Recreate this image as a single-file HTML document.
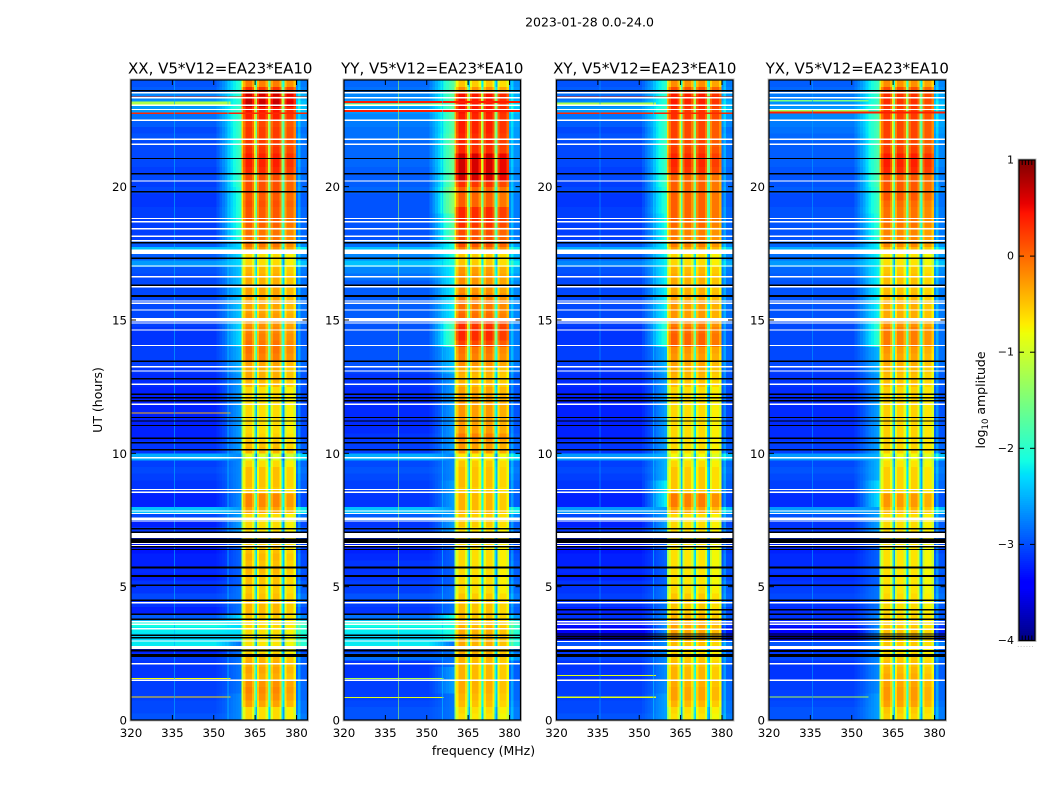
<!DOCTYPE html>
<html lang="en">
<head>
<meta charset="utf-8">
<title>2023-01-28 dynamic spectra</title>
<style>
html,body{margin:0;padding:0;background:#fff;width:1050px;height:800px;overflow:hidden}
svg{display:block}
text{font-family:"DejaVu Sans","Liberation Sans",sans-serif;fill:#000}
</style>
</head>
<body>
<svg id="chart" xmlns="http://www.w3.org/2000/svg" width="1050" height="800" viewBox="0 0 1050 800">
<rect x="0" y="0" width="1050" height="800" fill="#fff"/>
<text x="589.500" y="26.500" font-size="12.500" text-anchor="middle">2023-01-28 0.0-24.0</text>
<text x="483.500" y="755" font-size="12.500" text-anchor="middle">frequency (MHz)</text>
<text transform="translate(102,400) rotate(-90)" font-size="12.500" text-anchor="middle">UT (hours)</text>
<text transform="translate(985,400) rotate(-90)" font-size="12.500" text-anchor="middle">log<tspan font-size="8.500" dy="3">10</tspan><tspan dy="-3"> amplitude</tspan></text>
<g id="panels"></g>
<g id="colorbar"></g>
</svg>
<script>
// ---- categories / ticks ----
const panelNames = ["XX", "YY", "XY", "YX"];
const panelTitles = ["XX, V5*V12=EA23*EA10", "YY, V5*V12=EA23*EA10", "XY, V5*V12=EA23*EA10", "YX, V5*V12=EA23*EA10"];
const freqTicks = [320, 335, 350, 365, 380];
const hourTicks = [0, 5, 10, 15, 20];
const colorTicks = [1, 0, -1, -2, -3, -4];

// ---- spectral columns (MHz edges) and how each column relates to the row levels ----
const freqEdges = [320,351,352,353,354,355,356,357,358,359,360,360.7,361.5,363.8,364.6,365.1,365.6,366.4,368.8,369.6,370.1,370.6,371.4,373.8,374.6,375.1,375.6,376.4,379,379.8,380.5,381.5,384];
const columnKinds = ["b","e","e","e","e","e","e","e","e","e","n","n","n","n","n","n","n","n","n","n","n","n","n","n","n","n","n","n","n","b","b","b"];
const columnValues = [0,.1,.2,.3,.4,.55,.7,.8,.9,1,-.7,-.2,.12,-.15,-.9,-1.8,-.25,.08,-.2,-1.2,-1.6,-.15,.1,-.2,-1.6,-1.9,-.3,-.02,-.3,.25,.5,.2];
// the quarter-hour background readings sit slightly above the speckled mean colour
const bgCalibration = -0.12;

// ---- background level (320-351 MHz), one value per quarter hour, 0h upward ----
const bgXX = [-2.85,-2.9,-2.9,-2.95,-2.95,-2.95,-3,-3,-3,-2.95,-3.1,-2.1,-2.2,-2.1,-2,-2.8,-3.1,-3,-2.9,-3,-3,-3.1,-3.05,-3.1,-3.1,-3.15,-3.15,-3.1,-3,-3.1,-2.9,-2.3,-3.1,-3.1,-3,-3,-2.95,-2.9,-2.95,-2.4,-3,-3,-3.1,-3.1,-3.1,-3.1,-3.1,-3.1,-3.1,-3.1,-3.05,-3.05,-3,-2.95,-2.95,-2.95,-3,-3,-3,-2.95,-2.9,-2.9,-2.9,-2.9,-2.9,-2.9,-2.9,-2.85,-2.5,-2.8,-2.3,-2.8,-2.95,-2.95,-2.95,-2.95,-2.95,-3,-3,-2.9,-2.95,-2.9,-2.95,-2.9,-2.9,-2.9,-2.9,-2.85,-2.9,-2.8,-2.7,-2.5,-2.5,-2.6,-2.8,-2.85];
const bgYY = [-2.85,-2.85,-2.9,-2.95,-2.95,-2.95,-3,-3,-3,-2.7,-2.9,-2.1,-2.2,-2.1,-2,-2.7,-3,-2.95,-2.85,-2.95,-2.95,-3,-3,-3,-3.05,-3.1,-3.1,-3.05,-2.95,-3,-2.8,-2.3,-3,-3,-2.95,-2.95,-2.9,-2.85,-2.9,-2.4,-2.95,-2.95,-3,-3.05,-3.05,-3.05,-3.05,-3.05,-3.05,-3.05,-3,-3,-2.9,-2.85,-2.85,-2.85,-2.85,-2.85,-2.85,-2.85,-2.8,-2.8,-2.8,-2.8,-2.8,-2.8,-2.7,-2.6,-2.3,-2.6,-2.3,-2.7,-2.85,-2.85,-2.85,-2.85,-2.85,-2.85,-2.85,-2.75,-2.8,-2.8,-2.8,-2.75,-2.75,-2.75,-2.75,-2.7,-2.7,-2.65,-2.6,-2.5,-2.4,-2.6,-2.7,-2.75];
const bgXY = [-2.85,-2.9,-2.9,-2.95,-2.95,-2.95,-3,-3,-3,-2.9,-3,-2.85,-3.35,-3.35,-3.2,-3,-3.1,-3,-2.95,-3,-3,-3.1,-3.05,-3.1,-3.1,-3.15,-3.15,-3.1,-3,-3.1,-2.9,-2.5,-3.1,-3.1,-3,-3,-2.95,-2.9,-2.95,-2.5,-3,-3,-3.1,-3.1,-3.1,-3.1,-3.1,-3.1,-3.1,-3.1,-3.05,-3.05,-3,-2.95,-2.95,-2.95,-3,-3,-3,-2.95,-2.9,-2.9,-2.9,-2.9,-2.9,-2.9,-2.9,-2.85,-2.6,-2.8,-2.4,-2.8,-2.95,-2.95,-2.95,-2.95,-2.95,-3,-3,-2.9,-2.95,-2.9,-2.95,-2.9,-2.9,-2.9,-2.9,-2.85,-2.9,-2.8,-2.7,-2.5,-2.6,-2.7,-2.8,-2.85];
const bgYX = [-2.85,-2.85,-2.9,-2.95,-2.95,-2.95,-3,-3,-3,-2.9,-3,-2.85,-3.3,-3.3,-3.15,-3,-3.05,-3,-2.9,-2.95,-3,-3.05,-3,-3.05,-3.05,-3.1,-3.1,-3.05,-3,-3,-2.85,-2.5,-3.05,-3.05,-2.95,-2.95,-2.9,-2.85,-2.9,-2.5,-2.95,-2.95,-3.05,-3.05,-3.05,-3.05,-3.05,-3.05,-3.05,-3.05,-3,-3,-2.95,-2.9,-2.9,-2.9,-2.9,-2.9,-2.9,-2.9,-2.85,-2.85,-2.85,-2.85,-2.85,-2.85,-2.8,-2.75,-2.5,-2.7,-2.4,-2.75,-2.85,-2.85,-2.85,-2.85,-2.85,-2.9,-2.9,-2.8,-2.85,-2.85,-2.85,-2.8,-2.8,-2.8,-2.8,-2.75,-2.7,-2.65,-2.6,-2.5,-2.55,-2.65,-2.75,-2.8];

// ---- edge shoulder level (351-360 MHz), one value per hour ----
const edgeXX = [-2.7,-2.8,-2.8,-2.3,-2.8,-2.9,-2.9,-2.6,-2.7,-2.7,-2.6,-2.6,-2.6,-2.5,-2.3,-2.4,-2.4,-2.3,-2,-2,-1.9,-1.9,-1.9,-2];
const edgeYY = [-2.8,-2.6,-2.8,-2.1,-2.8,-2.9,-2.9,-2.6,-2.6,-2.7,-2.6,-2.6,-2.6,-2.4,-1.8,-2.2,-2.2,-2.1,-1.7,-1.4,-1.6,-1.6,-1.7,-1.7];
const edgeXY = [-2.6,-2.7,-2.7,-2.7,-2.8,-2.9,-2.9,-2.6,-2.2,-2.5,-2.6,-2.6,-2.6,-2.5,-2,-2.2,-2.2,-2.2,-2.1,-2,-1.9,-1.9,-1.9,-2];
const edgeYX = [-2.6,-2.7,-2.7,-2.7,-2.8,-2.9,-2.9,-2.6,-2.3,-2.5,-2.6,-2.6,-2.6,-2.5,-2,-2.2,-2.2,-2.2,-2,-1.9,-1.8,-1.8,-1.8,-1.9];

// ---- in-band level (360-380 MHz), one value per quarter hour ----
const bandXX = [-.7,-.7,-.4,-.3,-.25,-.3,-.45,-.4,-.45,-.5,-.7,-.75,-.75,-.7,-.65,-.6,-.5,-.5,-.55,-.6,-.55,-.55,-.5,-.55,-.5,-.55,-.6,-.7,-.7,-.7,-.7,-.4,-.25,-.25,-.6,-.55,-.55,-.55,-.7,-1,-.5,-.55,-.65,-.7,-.7,-.7,-.7,-.7,-.7,-.7,-.5,-.45,-.45,-.4,-.2,-.15,-.15,-.2,-.25,-.3,-.35,-.4,-.4,-.4,-.4,-.45,-.45,-.5,-.7,-.7,-.3,-.15,-.15,-.15,-.05,0,0,.05,0,.05,.05,.05,.25,.3,.3,.2,.15,.15,.15,.1,.3,.35,.6,.55,.2,-.2];
const bandYY = [-.75,-.7,-.55,-.5,-.45,-.45,-.5,-.5,-.5,-.5,-.45,-.45,-.45,-.45,-.5,-.55,-.55,-.55,-.6,-.7,-.7,-.7,-.7,-.7,-.7,-.7,-.7,-.7,-.7,-.6,-.6,-.5,-.5,-.5,-.6,-.55,-.55,-.55,-.6,-.8,-.35,-.35,-.2,-.35,-.35,-.35,-.35,-.35,-.35,-.4,-.5,-.5,-.45,-.3,-.2,-.15,.1,.25,.25,.2,-.1,-.15,-.15,-.2,-.3,-.3,-.3,-.35,-.6,-.6,-.2,.05,.05,.05,.2,.25,.25,-.05,-.05,-.05,.2,.55,.55,.55,.55,.25,.25,.25,.3,.3,.3,.35,.35,.35,-.3,-.6];
const bandXY = [-.75,-.7,-.5,-.4,-.4,-.45,-.5,-.5,-.55,-.6,-.7,-.55,-.4,-.4,-.4,-.5,-.6,-.6,-.6,-.7,-.75,-.75,-.75,-.75,-.75,-.75,-.75,-.75,-.7,-.7,-.7,-.4,-.2,-.2,-.6,-.6,-.6,-.6,-.7,-.9,-.7,-.7,-.7,-.7,-.7,-.7,-.7,-.7,-.7,-.7,-.55,-.5,-.45,-.4,-.35,-.3,-.05,-.05,-.1,-.2,-.35,-.35,-.35,-.4,-.45,-.45,-.45,-.5,-.7,-.7,-.4,-.2,-.2,-.2,-.1,-.05,-.05,-.05,-.05,-.05,-.05,-.05,.2,.25,.25,.15,.1,.1,.1,.1,.2,.2,.3,.3,.05,-.3];
const bandYX = [-.65,-.6,-.4,-.35,-.35,-.4,-.45,-.5,-.55,-.6,-.7,-.6,-.55,-.55,-.6,-.65,-.7,-.7,-.7,-.75,-.75,-.75,-.75,-.75,-.75,-.75,-.75,-.75,-.7,-.7,-.7,-.5,-.35,-.35,-.65,-.65,-.65,-.65,-.75,-.9,-.65,-.65,-.65,-.65,-.65,-.65,-.65,-.65,-.65,-.65,-.55,-.55,-.5,-.45,-.4,-.35,-.2,-.2,-.2,-.3,-.45,-.45,-.45,-.5,-.55,-.55,-.55,-.6,-.75,-.75,-.5,-.25,-.25,-.25,-.15,-.15,-.15,-.1,0,0,0,0,.25,.3,.3,.15,.1,.1,.1,.1,.15,.15,.2,.2,.05,-.3];

// ---- flagged integrations: start hour, duration in hours ----
const whiteFlagsCommon = [[23.5,.05],[23.31,.06],[23.02,.06],[22.87,.05],[22.47,.05],[21.75,.05],[21.56,.05],[20.19,.05],[18.78,.05],[18.66,.05],[18.4,.05],[18.12,.05],[17.95,.05],[17.48,.16],[17,.05],[16.6,.05],[16.22,.05],[15.69,.05],[15.6,.05],[15.35,.05],[14.94,.13],[14.87,.04],[14.6,.05],[14.02,.05],[13.22,.05],[13.06,.05],[12.56,.06],[11.81,.05],[9.81,.06],[8.62,.05],[8.52,.05],[7.81,.05],[7.72,.04],[7.5,.1],[7.44,.04],[6.82,.19],[6.6,.05],[6.52,.04],[4.37,.05],[2.09,.05],[1.47,.05]];
const blackFlagsCommon = [[23.57,.05],[21.03,.05],[20.46,.06],[19.78,.06],[17.87,.05],[17.28,.07],[16.28,.06],[15.87,.07],[13.43,.05],[12.77,.05],[12.19,.06],[12.06,.06],[11.94,.06],[11.32,.04],[11.19,.05],[11.02,.05],[10.53,.06],[10.37,.06],[10.1,.07],[7.15,.05],[7.02,.05],[6.64,.17],[6.47,.05],[6.37,.05],[5.69,.06],[5.37,.06],[5.02,.06],[4.47,.05],[3.94,.06],[3.75,.06]];
const whiteFlagsLowA = [[3.66,.05],[3.56,.05],[3.4,.05],[2.94,.05],[2.66,.11]];
const blackFlagsLowA = [[3.15,.06],[3.06,.06],[2.56,.09],[2.37,.1]];
const whiteFlagsLowB = [[4.37,.05],[3.66,.05],[3.56,.05],[3.37,.07],[2.92,.05],[2.66,.11]];
const blackFlagsLowB = [[4.11,.05],[3.2,.05],[3.1,.06],[3.01,.06],[2.55,.08],[2.36,.12]];

// ---- strong narrow-band rows in the background part: hour, duration, log amplitude ----
const rowHoursXX = [[23.06,.14,-1.2],[23.33,.05,.35],[22.72,.06,.35],[.85,.03,-.6],[1.55,.03,-.8],[11.5,.03,-.4]];
const rowHoursYY = [[23.14,.07,.4],[23.05,.06,-1.2],[22.8,.07,.4],[.82,.04,-.9],[1.55,.03,-1.2]];
const rowHoursXY = [[23.06,.1,-1.2],[23.33,.05,.35],[22.72,.06,.35],[.83,.05,-.9],[1.65,.04,-.9]];
const rowHoursYX = [[22.75,.07,.4],[22.82,.07,-1.3],[23.2,.05,-1.5],[.85,.04,-1.2]];

// ---- narrow vertical interference: MHz, log amplitude, opacity ----
const lineFreqXX = [335.5, 355];
const lineAmpXX = [-2.5, -2.3];
const lineFreqYY = [339.5, 355.5];
const lineAmpYY = [-1.3, -2.4];
const lineFreqXY = [335.5, 355];
const lineAmpXY = [-2.6, -2.4];
const lineFreqYX = [335.5];
const lineAmpYX = [-2.6];

const bgByPanel = [bgXX, bgYY, bgXY, bgYX];
const edgeByPanel = [edgeXX, edgeYY, edgeXY, edgeYX];
const bandByPanel = [bandXX, bandYY, bandXY, bandYX];
const whiteLowByPanel = [whiteFlagsLowA, whiteFlagsLowA, whiteFlagsLowB, whiteFlagsLowB];
const blackLowByPanel = [blackFlagsLowA, blackFlagsLowA, blackFlagsLowB, blackFlagsLowB];
const rowsByPanel = [rowHoursXX, rowHoursYY, rowHoursXY, rowHoursYX];
const lineFreqByPanel = [lineFreqXX, lineFreqYY, lineFreqXY, lineFreqYX];
const lineAmpByPanel = [lineAmpXX, lineAmpYY, lineAmpXY, lineAmpYX];

// ---- layout ----
const NS = "http://www.w3.org/2000/svg";
const panelLeft = [131, 344, 556.5, 769];
const panelWidth = 176.5;
const plotTop = 80, plotBottom = 720;
const freqMin = 320, freqMax = 384, hourMin = 0, hourMax = 24;
const cbLeft = 1019, cbRight = 1035, cbTop = 160, cbBottom = 640.5, cMin = -4, cMax = 1;

function xScale(p, f) { return panelLeft[p] + (f - freqMin) / (freqMax - freqMin) * panelWidth; }
function yScale(h) { return plotBottom - (h - hourMin) / (hourMax - hourMin) * (plotBottom - plotTop); }

function jet(v) {
  const t = Math.max(0, Math.min(1, (v - cMin) / (cMax - cMin)));
  const interp = function (pts) {
    for (let i = 1; i < pts.length; i++) {
      if (t <= pts[i][0]) {
        return pts[i - 1][1] + (t - pts[i - 1][0]) / (pts[i][0] - pts[i - 1][0]) * (pts[i][1] - pts[i - 1][1]);
      }
    }
    return pts[pts.length - 1][1];
  };
  const r = interp([[0, 0], [.35, 0], [.66, 1], [.89, 1], [1, .5]]);
  const g = interp([[0, 0], [.125, 0], [.375, 1], [.64, 1], [.91, 0], [1, 0]]);
  const b = interp([[0, .5], [.11, 1], [.34, 1], [.65, 0], [1, 0]]);
  return "rgb(" + Math.round(r * 255) + "," + Math.round(g * 255) + "," + Math.round(b * 255) + ")";
}

function mk(tag, attrs, parent) {
  const el = document.createElementNS(NS, tag);
  for (const k in attrs) el.setAttribute(k, attrs[k]);
  parent.appendChild(el);
  return el;
}

function cellValue(p, bin, c) {
  const bg = bgByPanel[p][bin] + bgCalibration;
  const edge = edgeByPanel[p][Math.floor(bin / 4)];
  const band = bandByPanel[p][bin];
  const kind = columnKinds[c];
  const val = columnValues[c];
  if (kind === "b") return bg + val;
  if (kind === "e") return bg + (edge - bg) * val;
  return band + val;
}

const panelsRoot = document.getElementById("panels");

panelNames.forEach(function (name, p) {
  const lname = name.toLowerCase();
  const g = mk("g", {}, panelsRoot);
  
  

  const title = mk("text", { x: panelLeft[p] + panelWidth / 2 + (p === 0 ? 1 : 0), y: 73.5, "font-size": 15, "text-anchor": "middle" }, g);
  
  
  title.textContent = panelTitles[p];

  const heat = mk("g", { "shape-rendering": "crispEdges" }, g);
  
  

  const nBins = bgByPanel[p].length;
  for (let bin = 0; bin < nBins; bin++) {
    const h0 = bin / 4, h1 = (bin + 1) / 4;
    const y1 = yScale(h1), y0 = yScale(h0);
    for (let c = 0; c < columnKinds.length; c++) {
      const x0 = xScale(p, freqEdges[c]), x1 = xScale(p, freqEdges[c + 1]);
      const cell = mk("rect", { x: x0.toFixed(2), y: y1.toFixed(2), width: (x1 - x0 + .3).toFixed(2), height: (y0 - y1 + .3).toFixed(2), fill: jet(cellValue(p, bin, c)) }, heat);
      
      
    }
  }

  rowsByPanel[p].forEach(function (row) {
    const yA = yScale(row[0] + row[1]), yB = yScale(row[0]);
    const rowEnd = row[2] > 0 && row[0] > 12 ? freqMax : 356;
    const r = mk("rect", { x: xScale(p, freqMin), y: yA.toFixed(2), width: (xScale(p, rowEnd) - xScale(p, freqMin)).toFixed(2), height: Math.max(1, yB - yA).toFixed(2), fill: jet(row[2]), "shape-rendering": "crispEdges" }, g);
    
    
  });

  lineFreqByPanel[p].forEach(function (f, i) {
    const l = mk("rect", { x: xScale(p, f).toFixed(2), y: plotTop, width: 1, height: plotBottom - plotTop, fill: jet(lineAmpByPanel[p][i]), opacity: .6, "shape-rendering": "crispEdges" }, g);
    
    
  });

  whiteFlagsCommon.concat(whiteLowByPanel[p]).forEach(function (fl) {
    const yA = yScale(fl[0] + fl[1]), yB = yScale(fl[0]);
    const r = mk("rect", { x: panelLeft[p], y: yA.toFixed(2), width: panelWidth, height: Math.max(1, yB - yA).toFixed(2), fill: "#fff", "shape-rendering": "crispEdges" }, g);
    
    
  });
  blackFlagsCommon.concat(blackLowByPanel[p]).forEach(function (fl) {
    const yA = yScale(fl[0] + fl[1]), yB = yScale(fl[0]);
    const r = mk("rect", { x: panelLeft[p], y: yA.toFixed(2), width: panelWidth, height: Math.max(1, yB - yA).toFixed(2), fill: "#000", "shape-rendering": "crispEdges" }, g);
    
    
  });

  const halo = mk("rect", { x: panelLeft[p] - 1, y: plotTop - 1, width: panelWidth + 2, height: plotBottom - plotTop + 2, fill: "none", stroke: "#bdbdbd", "stroke-width": 1 }, g);
  
  
  const frame = mk("rect", { x: panelLeft[p], y: plotTop, width: panelWidth, height: plotBottom - plotTop, fill: "none", stroke: "#000", "stroke-width": 1.2 }, g);
  
  

  freqTicks.forEach(function (f) {
    const x = xScale(p, f);
    const t1 = mk("line", { x1: x, x2: x, y1: plotBottom, y2: plotBottom - 5, stroke: "#000", "stroke-width": 1 }, g);
    
    
    const t2 = mk("line", { x1: x, x2: x, y1: plotTop, y2: plotTop + 5, stroke: "#000", "stroke-width": 1 }, g);
    
    
    const lab = mk("text", { x: x, y: 737, "font-size": 11.8, "text-anchor": "middle" }, g);
    
    
    lab.textContent = f;
  });
  hourTicks.forEach(function (h) {
    const y = yScale(h);
    const t1 = mk("line", { x1: panelLeft[p], x2: panelLeft[p] + 5, y1: y, y2: y, stroke: "#000", "stroke-width": 1 }, g);
    
    
    const t2 = mk("line", { x1: panelLeft[p] + panelWidth, x2: panelLeft[p] + panelWidth - 5, y1: y, y2: y, stroke: "#000", "stroke-width": 1 }, g);
    
    
    const lab = mk("text", { x: panelLeft[p] - 4, y: y + 4.5, "font-size": 11.8, "text-anchor": "end" }, g);
    
    
    lab.textContent = h;
  });
});

// ---- colorbar ----
const cb = document.getElementById("colorbar");
const cbSteps = 240;
function cbY(v) { return cbBottom - (v - cMin) / (cMax - cMin) * (cbBottom - cbTop); }
for (let i = 0; i < cbSteps; i++) {
  const v0 = cMin + (cMax - cMin) * i / cbSteps;
  const v1 = cMin + (cMax - cMin) * (i + 1) / cbSteps;
  const s = mk("rect", { x: cbLeft, y: cbY(v1).toFixed(2), width: cbRight - cbLeft, height: (cbY(v0) - cbY(v1) + .4).toFixed(2), fill: jet((v0 + v1) / 2), "shape-rendering": "crispEdges" }, cb);
  
  
}
const cbHalo = mk("rect", { x: cbLeft - 1, y: cbTop - 1, width: cbRight - cbLeft + 2, height: cbBottom - cbTop + 2, fill: "none", stroke: "#bdbdbd", "stroke-width": 1 }, cb);


const cbFrame = mk("rect", { x: cbLeft, y: cbTop, width: cbRight - cbLeft, height: cbBottom - cbTop, fill: "none", stroke: "#000", "stroke-width": 1.2 }, cb);


colorTicks.forEach(function (v) {
  const y = cbY(v);
  const a = mk("line", { x1: cbLeft, x2: cbLeft + 5, y1: y, y2: y, stroke: "#000", "stroke-width": 1 }, cb);
  
  
  const b = mk("line", { x1: cbRight, x2: cbRight - 5, y1: y, y2: y, stroke: "#000", "stroke-width": 1 }, cb);
  
  
  const lab = mk("text", { x: 1014, y: y + 3.5, "font-size": 11, "text-anchor": "end" }, cb);
  
  
  lab.textContent = v < 0 ? "\u2212" + Math.abs(v) : String(v);
});
const cbEndTicks = [0, 1, 2, 3, 4, 5];
cbEndTicks.forEach(function (k) {
  const x = cbLeft + k * (cbRight - cbLeft) / 5;
  const top = mk("line", { x1: x, x2: x, y1: cbTop, y2: cbTop + 5, stroke: "#000", "stroke-width": 1 }, cb);
  
  
  const bot = mk("line", { x1: x, x2: x, y1: cbBottom, y2: cbBottom - 5, stroke: "#000", "stroke-width": 1 }, cb);
  
  
});
const dots = mk("text", { x: 1026, y: 647, "font-size": 6, "text-anchor": "middle", "letter-spacing": "1" }, cb);


dots.style.fill = "#888";
dots.textContent = "......";
</script>
</body>
</html>
